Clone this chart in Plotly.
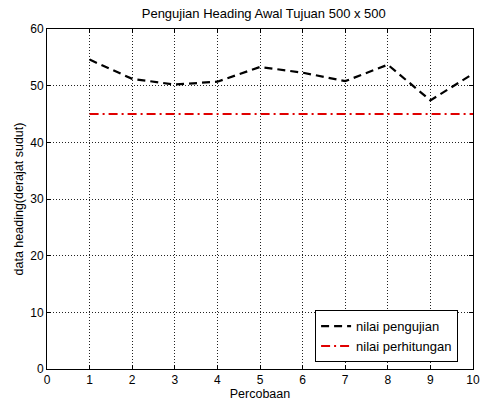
import plotly.graph_objects as go

percobaan = [1, 2, 3, 4, 5, 6, 7, 8, 9, 10]
nilai_pengujian = [54.6, 51.2, 50.2, 50.7, 53.3, 52.3, 50.8, 53.7, 47.4, 52.1]
nilai_perhitungan = [45, 45, 45, 45, 45, 45, 45, 45, 45, 45]
x_ticks = [0, 1, 2, 3, 4, 5, 6, 7, 8, 9, 10]
y_ticks = [0, 10, 20, 30, 40, 50, 60]

fam = "Liberation Sans, Arial, sans-serif"
font = dict(family=fam, size=12.5, color="black")
tickfont = dict(family=fam, size=12, color="black")

fig = go.Figure()
fig.add_trace(go.Scatter(x=percobaan, y=nilai_pengujian, mode="lines",
                         name="nilai pengujian",
                         line=dict(color="black", width=2.2, dash="8px,5px")))
fig.add_trace(go.Scatter(x=percobaan, y=nilai_perhitungan, mode="lines",
                         name="nilai perhitungan",
                         line=dict(color="#e00000", width=2, dash="9px,4px,2px,4px")))

axis_common = dict(showline=True, linecolor="black", linewidth=1, mirror="ticks",
                   ticks="inside", ticklen=4, tickcolor="black",
                   showgrid=True, gridcolor="#222222", griddash="1px,2px", gridwidth=1,
                   zeroline=False, tickfont=tickfont)

fig.update_layout(
    width=484, height=402,
    margin=dict(l=47, r=4, t=29, b=33),
    paper_bgcolor="white", plot_bgcolor="white",
    font=font,
    title=dict(text="Pengujian Heading Awal Tujuan 500 x 500", x=0.545, xanchor="center",
               y=0.966, yanchor="middle", font=dict(family=fam, size=13, color="black")),
    xaxis=dict(range=[0, 10], tickvals=x_ticks, ticklabeloverflow="allow",
               title=dict(text="Percobaan", font=font, standoff=1), **axis_common),
    yaxis=dict(range=[0, 60], tickvals=y_ticks,
               title=dict(text="data heading(derajat sudut)", font=font, standoff=3), **axis_common),
    legend=dict(x=0.965, xanchor="right", y=0.02, yanchor="bottom",
                bordercolor="black", borderwidth=1, bgcolor="white",
                font=dict(family=fam, size=13, color="black"),
                tracegroupgap=0, itemwidth=30),
    showlegend=True,
)

fig.write_html("out.html", config={"displayModeBar": False},
               post_script="document.body.style.margin='0';document.body.style.overflow='hidden';")
